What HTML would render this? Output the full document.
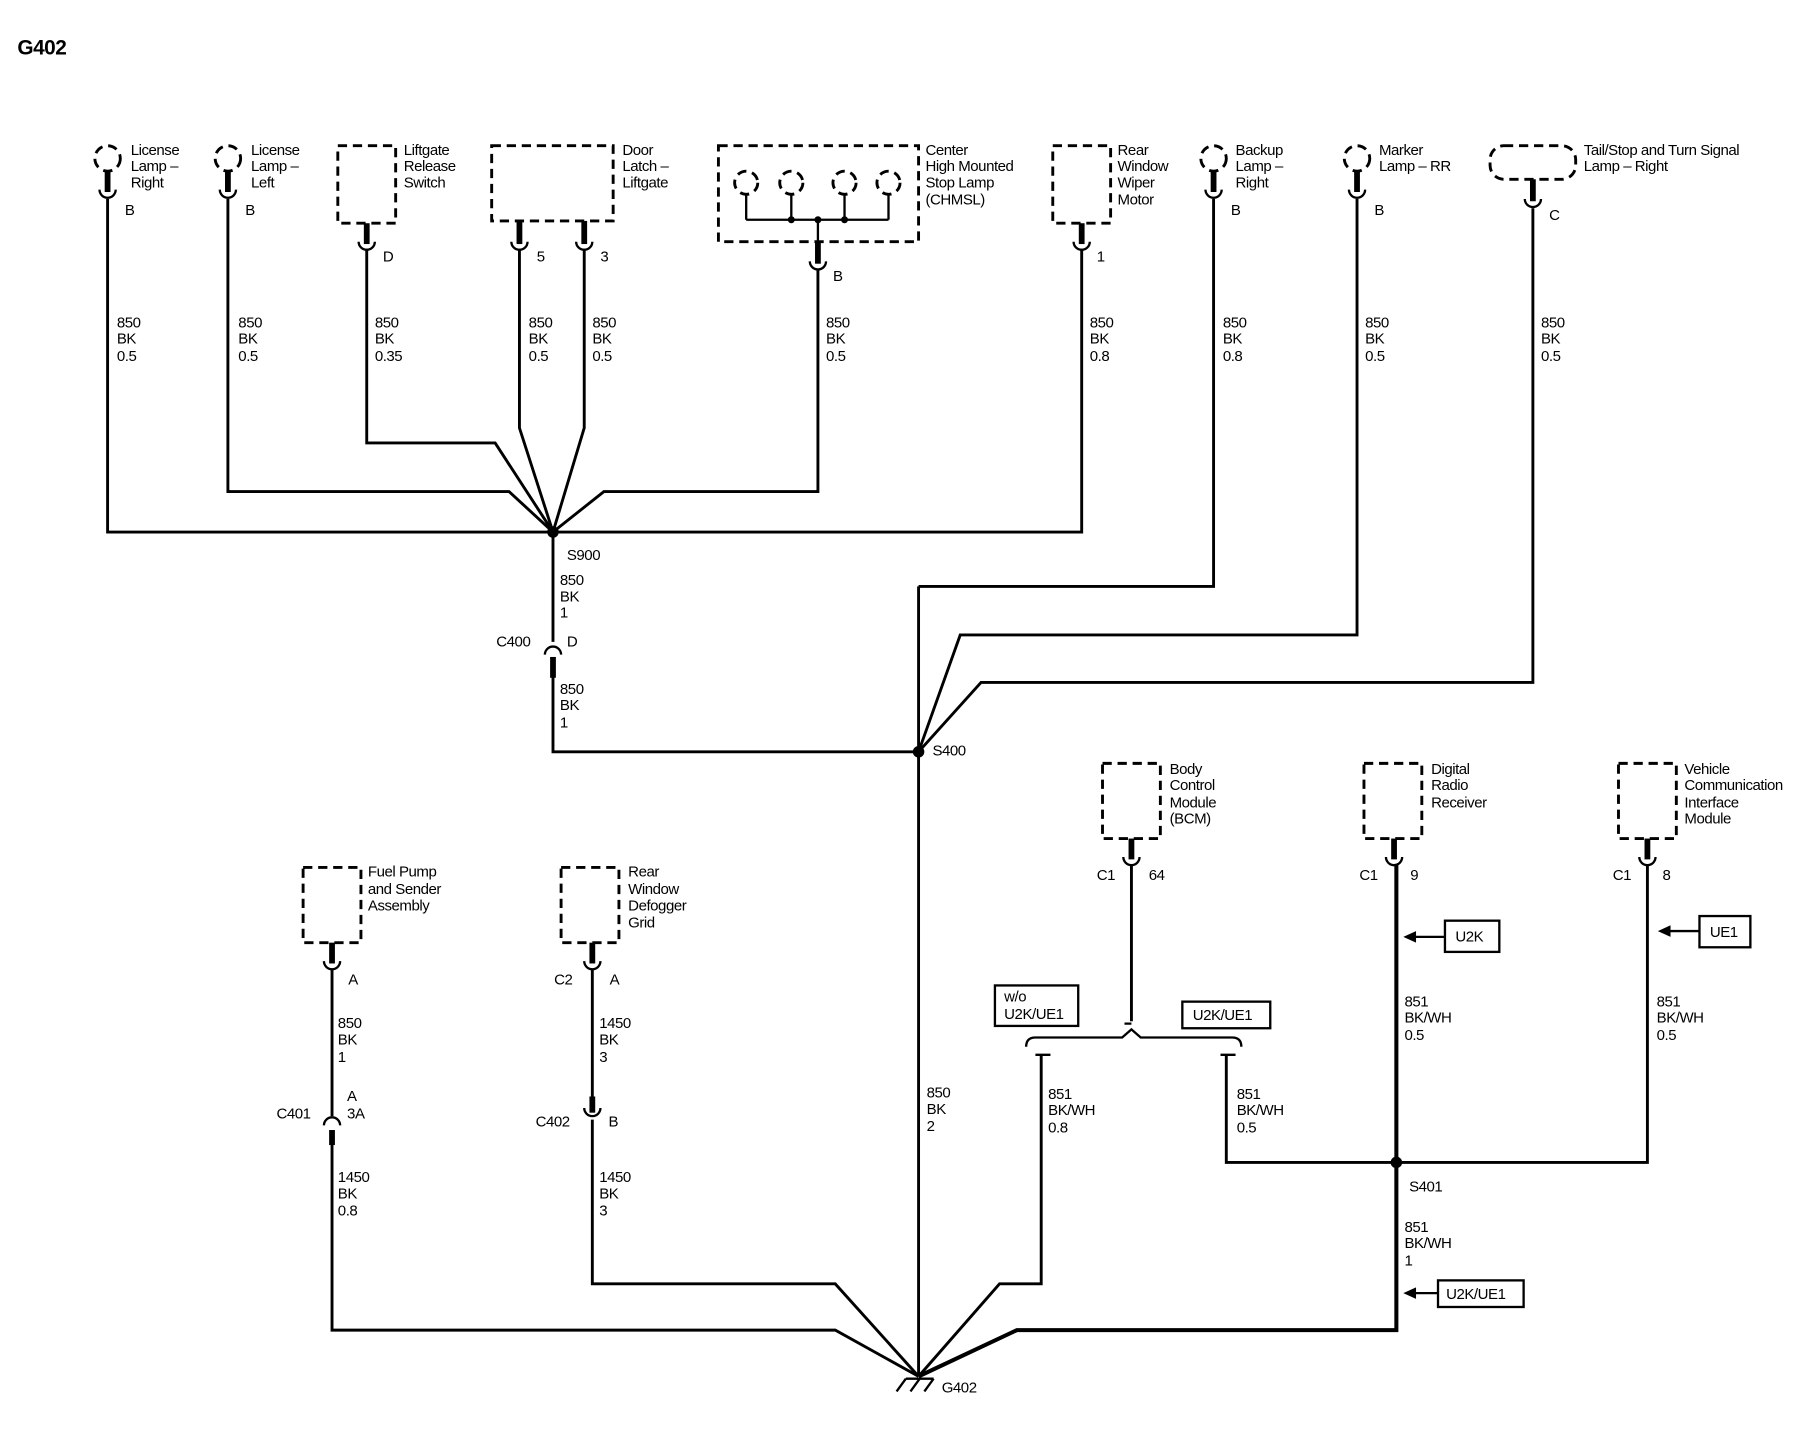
<!DOCTYPE html>
<html><head><meta charset="utf-8"><style>
html,body{margin:0;padding:0;background:#fff;}
svg{display:block}
text{font-family:"Liberation Sans",Arial,sans-serif;font-size:13px;fill:#000;letter-spacing:-0.4px}
.w{stroke:#000;stroke-width:2.5;fill:none}
.d{stroke:#000;stroke-width:2.5;fill:none;stroke-dasharray:8 5}
.c{stroke:#000;stroke-width:2;fill:none}
.p{stroke:#000;stroke-width:5}
</style></head><body>
<svg width="1814" height="1440" viewBox="0 0 1568 1245" preserveAspectRatio="none" xmlns="http://www.w3.org/2000/svg">
<text x="15" y="47" style="font-size:18px;font-weight:bold">G402</text>

<circle class="d" cx="93" cy="137" r="11"/>
<circle class="d" cx="197" cy="137" r="11"/>
<rect class="d" x="292" y="126" width="50" height="67"/>
<rect class="d" x="425" y="126" width="105" height="65"/>
<rect class="d" x="621" y="126" width="173" height="83"/>
<circle class="d" cx="645" cy="158" r="10"/><circle class="d" cx="684" cy="158" r="10"/>
<circle class="d" cx="730" cy="158" r="10"/><circle class="d" cx="768" cy="158" r="10"/>
<path class="c" d="M645 168V190M684 168V190M730 168V190M768 168V190M645 190H768M707 190V210"/>
<circle cx="684" cy="190" r="3"/><circle cx="707" cy="190" r="3"/><circle cx="730" cy="190" r="3"/>
<rect class="d" x="910" y="126" width="50" height="67"/>
<circle class="d" cx="1049" cy="137" r="11"/>
<circle class="d" cx="1173" cy="137" r="11"/>
<rect class="d" x="1288" y="126" width="74" height="29" rx="12"/>

<g>
<line class="p" x1="93" y1="148" x2="93" y2="166"/><path class="c" d="M86 164A7 7 0 0 0 100 164"/>
<line class="p" x1="197" y1="148" x2="197" y2="166"/><path class="c" d="M190 164A7 7 0 0 0 204 164"/>
<line class="p" x1="317" y1="193" x2="317" y2="211"/><path class="c" d="M310 209A7 7 0 0 0 324 209"/>
<line class="p" x1="449" y1="191" x2="449" y2="211"/><path class="c" d="M442 209A7 7 0 0 0 456 209"/>
<line class="p" x1="505" y1="191" x2="505" y2="211"/><path class="c" d="M498 209A7 7 0 0 0 512 209"/>
<line class="p" x1="707" y1="209" x2="707" y2="228"/><path class="c" d="M700 226A7 7 0 0 0 714 226"/>
<line class="p" x1="935" y1="193" x2="935" y2="211"/><path class="c" d="M928 209A7 7 0 0 0 942 209"/>
<line class="p" x1="1049" y1="148" x2="1049" y2="166"/><path class="c" d="M1042 164A7 7 0 0 0 1056 164"/>
<line class="p" x1="1173" y1="148" x2="1173" y2="166"/><path class="c" d="M1166 164A7 7 0 0 0 1180 164"/>
<line class="p" x1="1325" y1="155" x2="1325" y2="174"/><path class="c" d="M1318 172A7 7 0 0 0 1332 172"/>
</g>

<text x="113" y="134">License</text><text x="113" y="148">Lamp –</text><text x="113" y="162">Right</text>
<text x="217" y="134">License</text><text x="217" y="148">Lamp –</text><text x="217" y="162">Left</text>
<text x="349" y="134">Liftgate</text><text x="349" y="148">Release</text><text x="349" y="162">Switch</text>
<text x="538" y="134">Door</text><text x="538" y="148">Latch –</text><text x="538" y="162">Liftgate</text>
<text x="800" y="134">Center</text><text x="800" y="148">High Mounted</text><text x="800" y="162">Stop Lamp</text><text x="800" y="177">(CHMSL)</text>
<text x="966" y="134">Rear</text><text x="966" y="148">Window</text><text x="966" y="162">Wiper</text><text x="966" y="177">Motor</text>
<text x="1068" y="134">Backup</text><text x="1068" y="148">Lamp –</text><text x="1068" y="162">Right</text>
<text x="1192" y="134">Marker</text><text x="1192" y="148">Lamp – RR</text>
<text x="1369" y="134">Tail/Stop and Turn Signal</text><text x="1369" y="148">Lamp – Right</text>
<text x="108" y="186">B</text><text x="212" y="186">B</text><text x="331" y="226">D</text>
<text x="464" y="226">5</text><text x="519" y="226">3</text><text x="720" y="243">B</text>
<text x="948" y="226">1</text><text x="1064" y="186">B</text><text x="1188" y="186">B</text><text x="1339" y="190">C</text>

<path class="w" d="M93 172V460H935V215"/>
<path class="w" d="M197 172V425H440L478 460"/>
<path class="w" d="M317 215V383H428L478 460"/>
<path class="w" d="M449 215V370L478 460"/>
<path class="w" d="M505 215V370L478 460"/>
<path class="w" d="M707 232V425H522L478 460"/>
<path class="w" d="M1049 172V507H794"/>
<path class="w" d="M1173 172V549H830L794 650"/>
<path class="w" d="M1325 180V590H848L794 650"/>
<path class="w" d="M478 460V555M478 570V650H794"/>
<path class="w" d="M794 507V1190"/>
<circle cx="478" cy="460" r="5"/><circle cx="794" cy="650" r="5"/>
<line class="p" x1="478" y1="568" x2="478" y2="586"/><path class="c" d="M471 566A7 7 0 0 1 485 566"/>

<g>
<text x="101" y="283">850</text><text x="101" y="297">BK</text><text x="101" y="312">0.5</text>
<text x="206" y="283">850</text><text x="206" y="297">BK</text><text x="206" y="312">0.5</text>
<text x="324" y="283">850</text><text x="324" y="297">BK</text><text x="324" y="312">0.35</text>
<text x="457" y="283">850</text><text x="457" y="297">BK</text><text x="457" y="312">0.5</text>
<text x="512" y="283">850</text><text x="512" y="297">BK</text><text x="512" y="312">0.5</text>
<text x="714" y="283">850</text><text x="714" y="297">BK</text><text x="714" y="312">0.5</text>
<text x="942" y="283">850</text><text x="942" y="297">BK</text><text x="942" y="312">0.8</text>
<text x="1057" y="283">850</text><text x="1057" y="297">BK</text><text x="1057" y="312">0.8</text>
<text x="1180" y="283">850</text><text x="1180" y="297">BK</text><text x="1180" y="312">0.5</text>
<text x="1332" y="283">850</text><text x="1332" y="297">BK</text><text x="1332" y="312">0.5</text>
<text x="490" y="484">S900</text>
<text x="484" y="506">850</text><text x="484" y="520">BK</text><text x="484" y="534">1</text>
<text x="429" y="559">C400</text><text x="490" y="559">D</text>
<text x="484" y="600">850</text><text x="484" y="614">BK</text><text x="484" y="629">1</text>
<text x="806" y="653">S400</text>
<text x="801" y="949">850</text><text x="801" y="963">BK</text><text x="801" y="978">2</text>
</g>

<rect class="d" x="262" y="750" width="50" height="65"/>
<rect class="d" x="485" y="750" width="50" height="65"/>
<line class="p" x1="287" y1="815" x2="287" y2="833"/><path class="c" d="M280 831A7 7 0 0 0 294 831"/>
<line class="p" x1="512" y1="815" x2="512" y2="833"/><path class="c" d="M505 831A7 7 0 0 0 519 831"/>
<path class="w" d="M287 838V965M287 980V1150H722L794 1190"/>
<path class="w" d="M512 838V953M512 968V1110H722L794 1190"/>
<path class="c" d="M280 973A7 7 0 0 1 294 973"/><line class="p" x1="287" y1="977" x2="287" y2="990"/>
<path class="c" d="M505 958A7 7 0 0 0 519 958"/><line class="p" x1="512" y1="948" x2="512" y2="962"/>
<text x="318" y="758">Fuel Pump</text><text x="318" y="773">and Sender</text><text x="318" y="787">Assembly</text>
<text x="543" y="758">Rear</text><text x="543" y="773">Window</text><text x="543" y="787">Defogger</text><text x="543" y="802">Grid</text>
<text x="301" y="851">A</text><text x="479" y="851">C2</text><text x="527" y="851">A</text>
<text x="292" y="889">850</text><text x="292" y="903">BK</text><text x="292" y="918">1</text>
<text x="300" y="952">A</text><text x="300" y="967">3A</text><text x="239" y="967">C401</text>
<text x="518" y="889">1450</text><text x="518" y="903">BK</text><text x="518" y="918">3</text>
<text x="463" y="974">C402</text><text x="526" y="974">B</text>
<text x="292" y="1022">1450</text><text x="292" y="1036">BK</text><text x="292" y="1051">0.8</text>
<text x="518" y="1022">1450</text><text x="518" y="1036">BK</text><text x="518" y="1051">3</text>

<path class="c" d="M775 1203L783 1192M787 1203L795 1192M799 1203L807 1192M783 1192H807"/>
<text x="814" y="1204">G402</text>

<rect class="d" x="953" y="660" width="50" height="65"/>
<rect class="d" x="1179" y="660" width="50" height="65"/>
<rect class="d" x="1399" y="660" width="50" height="65"/>
<line class="p" x1="978" y1="725" x2="978" y2="743"/><path class="c" d="M971 741A7 7 0 0 0 985 741"/>
<line class="p" x1="1205" y1="725" x2="1205" y2="743"/><path class="c" d="M1198 741A7 7 0 0 0 1212 741"/>
<line class="p" x1="1424" y1="725" x2="1424" y2="743"/><path class="c" d="M1417 741A7 7 0 0 0 1431 741"/>
<text x="1011" y="669">Body</text><text x="1011" y="683">Control</text><text x="1011" y="698">Module</text><text x="1011" y="712">(BCM)</text>
<text x="1237" y="669">Digital</text><text x="1237" y="683">Radio</text><text x="1237" y="698">Receiver</text>
<text x="1456" y="669">Vehicle</text><text x="1456" y="683">Communication</text><text x="1456" y="698">Interface</text><text x="1456" y="712">Module</text>
<text x="948" y="761">C1</text><text x="993" y="761">64</text>
<text x="1175" y="761">C1</text><text x="1219" y="761">9</text>
<text x="1394" y="761">C1</text><text x="1437" y="761">8</text>

<path class="w" d="M978 748V883"/>
<path class="c" d="M972 885H978M887 905Q887 897 895 897H970L978 890L986 897H1065Q1073 897 1073 905"/>
<path class="c" d="M895 912H908M1055 912H1068"/>
<path class="w" d="M900 912V1110H864L794 1190"/>
<path class="w" d="M1060 912V1005H1424V748"/>
<path class="w" d="M1207 748V1150H879L794 1190" style="stroke-width:3.5"/>
<circle cx="1207" cy="1005" r="5"/>

<rect x="860" y="852" width="72" height="35" fill="#fff" stroke="#000" stroke-width="2"/>
<text x="868" y="866">w/o</text><text x="868" y="881">U2K/UE1</text>
<rect x="1022" y="866" width="76" height="23" fill="#fff" stroke="#000" stroke-width="2"/>
<text x="1031" y="882">U2K/UE1</text>
<rect x="1249" y="796" width="47" height="27" fill="#fff" stroke="#000" stroke-width="2"/>
<text x="1258" y="814">U2K</text>
<path class="c" d="M1249 810H1222"/><path d="M1213 810L1224 805V815Z"/>
<rect x="1469" y="792" width="44" height="27" fill="#fff" stroke="#000" stroke-width="2"/>
<text x="1478" y="810">UE1</text>
<path class="c" d="M1469 805H1442"/><path d="M1433 805L1444 800V810Z"/>
<rect x="1243" y="1107" width="74" height="23" fill="#fff" stroke="#000" stroke-width="2"/>
<text x="1250" y="1123">U2K/UE1</text>
<path class="c" d="M1243 1118H1222"/><path d="M1213 1118L1224 1113V1123Z"/>

<text x="906" y="950">851</text><text x="906" y="964">BK/WH</text><text x="906" y="979">0.8</text>
<text x="1069" y="950">851</text><text x="1069" y="964">BK/WH</text><text x="1069" y="979">0.5</text>
<text x="1214" y="870">851</text><text x="1214" y="884">BK/WH</text><text x="1214" y="899">0.5</text>
<text x="1432" y="870">851</text><text x="1432" y="884">BK/WH</text><text x="1432" y="899">0.5</text>
<text x="1218" y="1030">S401</text>
<text x="1214" y="1065">851</text><text x="1214" y="1079">BK/WH</text><text x="1214" y="1094">1</text>
</svg>
</body></html>
